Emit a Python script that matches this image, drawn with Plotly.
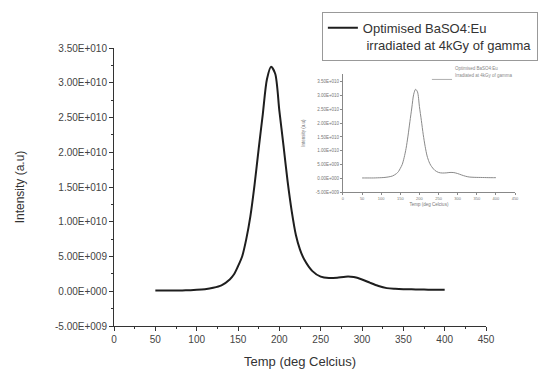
import plotly.graph_objects as go

# Data (Temp in deg C, intensity in a.u.)
temp = [50, 60, 70, 80, 90, 100, 110, 120, 130, 140, 145, 150, 155, 160, 165, 170,
        175, 180, 185, 190, 195, 200, 205, 210, 215, 220, 225, 230, 240, 250, 260,
        270, 280, 290, 300, 310, 320, 330, 340, 350, 360, 370, 380, 390, 400]
intensity_e9 = [0.1, 0.1, 0.1, 0.1, 0.15, 0.2, 0.3, 0.5, 0.85, 1.7, 2.4, 3.6, 5.0, 7.5,
                10.8, 15.3, 20.5, 25.5, 30.5, 32.3, 31.3, 26.0, 21.0, 15.8, 11.5, 8.1,
                6.0, 4.6, 2.9, 2.1, 1.9, 1.95, 2.1, 2.05, 1.7, 1.2, 0.75, 0.45, 0.35,
                0.3, 0.28, 0.25, 0.22, 0.2, 0.2]
intensity = [v * 1e9 for v in intensity_e9]

x_ticks = [0, 50, 100, 150, 200, 250, 300, 350, 400, 450]
y_tickvals = [-5e9, 0, 5e9, 1e10, 1.5e10, 2e10, 2.5e10, 3e10, 3.5e10]
y_ticktext = ["-5.00E+009", "0.00E+000", "5.00E+009", "1.00E+010", "1.50E+010",
              "2.00E+010", "2.50E+010", "3.00E+010", "3.50E+010"]

series_name = "Optimised BaSO4:Eu<br>&nbsp;irradiated at 4kGy of gamma"

FONT = "Liberation Sans, Arial, sans-serif"

fig = go.Figure()
fig.add_trace(go.Scatter(x=temp, y=intensity, mode="lines", name=series_name,
                         line=dict(color="#1e1e1e", width=2, shape="spline", smoothing=0.8),
                         xaxis="x", yaxis="y"))
fig.add_trace(go.Scatter(x=temp, y=intensity, mode="lines", showlegend=False,
                         line=dict(color="#8a8a8a", width=1, shape="spline", smoothing=0.8),
                         xaxis="x2", yaxis="y2"))

axis_common = dict(showgrid=False, zeroline=False, showline=True, linecolor="#333",
                   linewidth=1, ticks="outside", tickcolor="#333", mirror=False,
                   automargin=False)

fig.update_layout(
    width=550, height=376,
    margin=dict(l=114, r=30, t=48, b=50),
    paper_bgcolor="white", plot_bgcolor="white",
    font=dict(family=FONT, color="#333"),
    showlegend=True,
    legend=dict(x=0.512, y=1.13, xanchor="left", yanchor="top",
                bordercolor="#999", borderwidth=1, bgcolor="white",
                font=dict(size=13, color="#333"), valign="top",
                itemwidth=30, tracegroupgap=0),
    xaxis=dict(domain=[0, 0.9163], range=[0, 450], tickvals=x_ticks,
               ticklen=4, tickfont=dict(size=10, color="#444"),
               minor=dict(dtick=25, ticklen=2, ticks="outside", tickcolor="#333"),
               title=dict(text="Temp (deg Celcius)", font=dict(size=13, color="#333"), standoff=12),
               anchor="y", **axis_common),
    yaxis=dict(domain=[0, 1], range=[-5e9, 3.5e10], tickvals=y_tickvals, ticktext=y_ticktext,
               ticklen=4, tickfont=dict(size=10, color="#444"),
               minor=dict(dtick=2.5e9, ticklen=2, ticks="outside", tickcolor="#333"),
               title=dict(text="Intensity (a.u)", font=dict(size=12, color="#333"), standoff=27),
               anchor="x", **axis_common),
    xaxis2=dict(domain=[0.564, 0.9877], range=[0, 450], tickvals=x_ticks,
                showgrid=False, zeroline=False, showline=True, linecolor="#888", linewidth=1,
                ticks="outside", ticklen=2, tickcolor="#888", automargin=False,
                tickfont=dict(size=4, color="#777"),
                title=dict(text="Temp (deg Celcius)", font=dict(size=4.5, color="#777"), standoff=3),
                anchor="y2"),
    yaxis2=dict(domain=[0.482, 0.906], range=[-5e9, 3.78e10], tickvals=y_tickvals,
                ticktext=y_ticktext, automargin=False,
                showgrid=False, zeroline=False, showline=True, linecolor="#888", linewidth=1,
                ticks="outside", ticklen=2, tickcolor="#888",
                tickfont=dict(size=4.5, color="#777"),
                title=dict(text="Intensity (a.u)", font=dict(size=4.5, color="#777"), standoff=10),
                anchor="x2"),
)

# inset's own small legend
fig.add_shape(type="line", xref="x2 domain", yref="y2 domain", x0=0.517, x1=0.634,
              y0=0.955, y1=0.955, line=dict(color="#999", width=0.8))
fig.add_annotation(xref="x2 domain", yref="y2 domain", x=0.64, y=1.05, text="Optimised BaSO4:Eu",
                   showarrow=False, xanchor="left", yanchor="middle",
                   font=dict(size=4.5, color="#888", family=FONT))
fig.add_annotation(xref="x2 domain", yref="y2 domain", x=0.64, y=0.99,
                   text="Irradiated at 4kGy of gamma",
                   showarrow=False, xanchor="left", yanchor="middle",
                   font=dict(size=4.5, color="#888", family=FONT))

fig.write_html("out.html")
